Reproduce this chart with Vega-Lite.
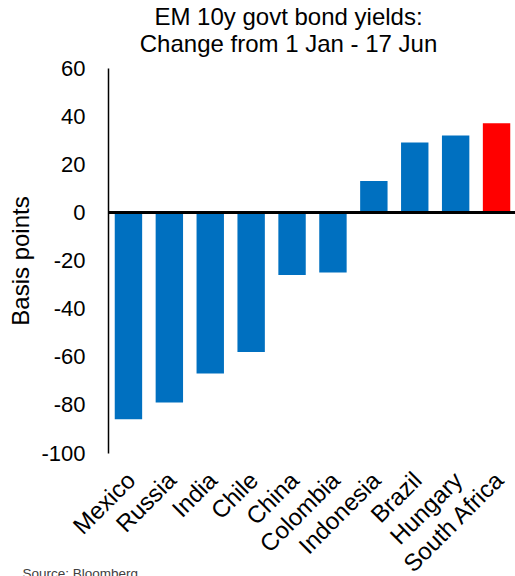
{
  "$schema": "https://vega.github.io/schema/vega-lite/v6.json",
  "autosize": "none",
  "width": 409,
  "height": 385,
  "padding": {"left": 108, "top": 68, "right": 0, "bottom": 123},
  "background": "white",
  "config": {
    "font": "Liberation Sans",
    "view": {"stroke": null}
  },
  "title": {
    "text": ["EM 10y govt bond yields:", "Change from 1 Jan - 17 Jun"],
    "fontSize": 24,
    "fontWeight": "normal",
    "color": "#000000",
    "anchor": "middle",
    "dx": -24,
    "offset": 0,
    "lineHeight": 27
  },
  "data": {
    "values": [
      {"country": "Mexico", "bp": -86},
      {"country": "Russia", "bp": -79},
      {"country": "India", "bp": -67},
      {"country": "Chile", "bp": -58},
      {"country": "China", "bp": -26},
      {"country": "Colombia", "bp": -25},
      {"country": "Indonesia", "bp": 13},
      {"country": "Brazil", "bp": 29},
      {"country": "Hungary", "bp": 32},
      {"country": "South Africa", "bp": 37}
    ]
  },
  "layer": [
    {
      "mark": {"type": "bar"},
      "encoding": {
        "x": {
          "field": "country",
          "type": "nominal",
          "sort": null,
          "scale": {"paddingInner": 0.33, "paddingOuter": 0.165},
          "axis": {
            "orient": "bottom",
            "domain": false,
            "ticks": false,
            "labelAngle": -45,
            "labelFontSize": 24,
            "labelColor": "#000000",
            "labelPadding": 15,
            "labelOffset": -5,
            "labelOverlap": false,
            "labelBound": false,
            "labelFlush": false,
            "title": "Source: Bloomberg",
            "titleFontSize": 13.5,
            "titleFontWeight": "normal",
            "titleColor": "#404040",
            "titleAnchor": "start",
            "titleAlign": "left",
            "titleBaseline": "alphabetic",
            "titleX": -86,
            "titleY": 124
          }
        },
        "y": {
          "field": "bp",
          "type": "quantitative",
          "scale": {"domain": [-100, 60], "nice": false},
          "axis": {
            "values": [-100, -80, -60, -40, -20, 0, 20, 40, 60],
            "labelExpr": "'' + datum.value",
            "grid": false,
            "ticks": false,
            "domainColor": "#000000",
            "domainWidth": 1.5,
            "labelFontSize": 22,
            "labelColor": "#000000",
            "labelPadding": 23,
            "labelOverlap": false,
            "title": "Basis points",
            "titleFontSize": 24,
            "titleFontWeight": "normal",
            "titleColor": "#000000",
            "titlePadding": 7
          }
        },
        "color": {
          "condition": {"test": "datum.country === 'South Africa'", "value": "#FF0000"},
          "value": "#0070C0"
        }
      }
    },
    {
      "mark": {"type": "rule", "color": "#000000", "strokeWidth": 2},
      "encoding": {"y": {"datum": 0}}
    }
  ]
}
